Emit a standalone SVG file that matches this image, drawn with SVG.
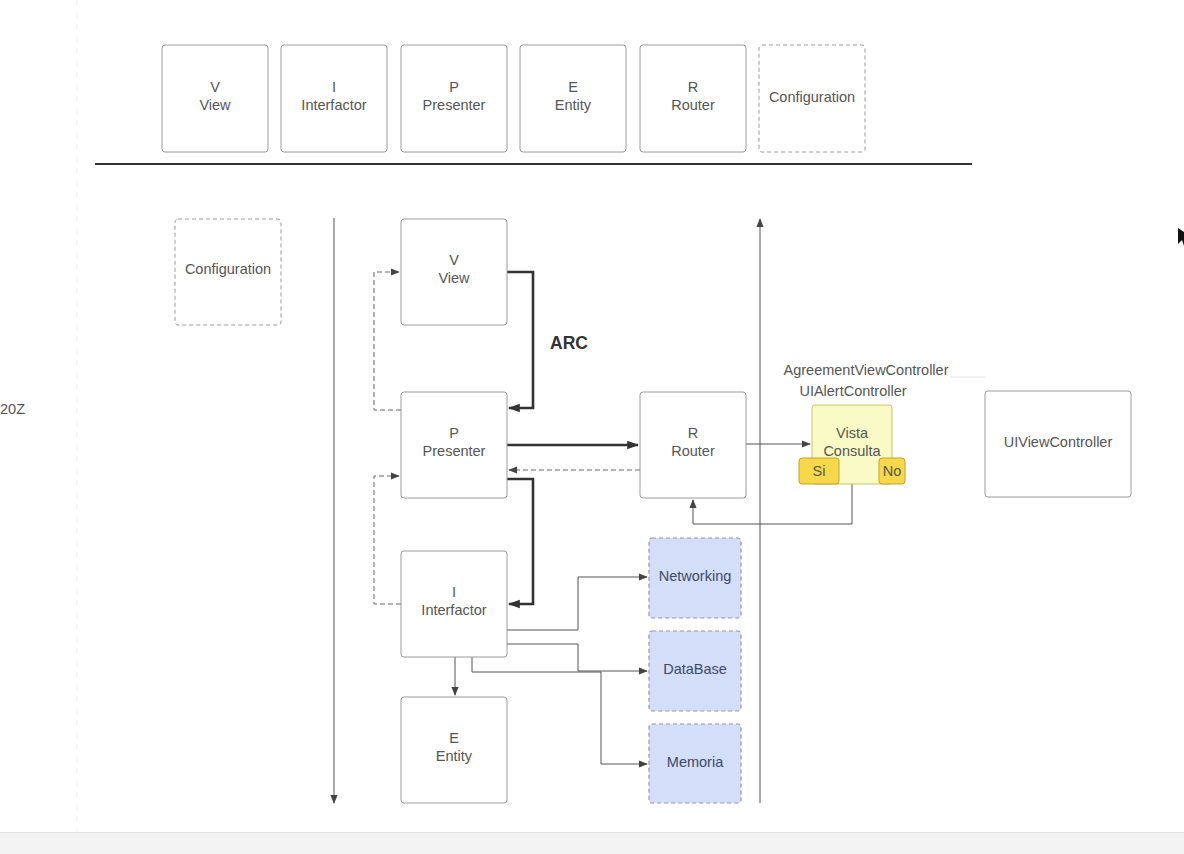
<svg xmlns="http://www.w3.org/2000/svg" width="1184" height="854" viewBox="0 0 1184 854">
<defs>
<style>
.box{fill:#fff;stroke:#9a9a9a;stroke-width:1}
.dbox{fill:#fff;stroke:#9a9a9a;stroke-width:1;stroke-dasharray:4 3}
.blue{fill:#d3def8;stroke:#9b8fb3;stroke-width:1.2;stroke-dasharray:4 3}
.t{font-family:"Liberation Sans",Arial,sans-serif;font-size:14.5px;fill:#555;text-anchor:middle}
.tb{font-family:"Liberation Sans",Arial,sans-serif;font-size:14.5px;fill:#3d4a6b;text-anchor:middle}
.thick{fill:none;stroke:#333;stroke-width:2.6}
.thin{fill:none;stroke:#555;stroke-width:1}
.dash{fill:none;stroke:#666;stroke-width:1;stroke-dasharray:5 3}
.grid{stroke:#f0f0f0;stroke-width:1}
</style>
<marker id="ah" viewBox="0 0 10 10" refX="9" refY="5" markerWidth="9" markerHeight="9" markerUnits="userSpaceOnUse" orient="auto"><path d="M0,1 L10,5 L0,9 z" fill="#444"/></marker>
<marker id="ahb" viewBox="0 0 10 10" refX="9" refY="5" markerWidth="12" markerHeight="12" markerUnits="userSpaceOnUse" orient="auto"><path d="M0,1.5 L10,5 L0,8.5 z" fill="#333"/></marker>
</defs>
<rect x="0" y="0" width="1184" height="854" fill="#fff"/>
<g id="background">
<line class="grid" x1="77" y1="0" x2="77" y2="832" stroke-dasharray="6 6" stroke="#e4e4e4"/>
<rect x="0" y="832" width="1184" height="22" fill="#f3f3f3"/>
<line x1="0" y1="832.5" x2="1184" y2="832.5" stroke="#e2e2e2"/>
<text x="0" y="414" font-family="Liberation Sans,Arial,sans-serif" font-size="14.5" fill="#555">20Z</text>
<line x1="95" y1="164" x2="972" y2="164" stroke="#333" stroke-width="2"/>
<line x1="950" y1="377" x2="985" y2="377" stroke="#e6e6e6"/>
</g>
<g id="legend">
<g id="legend-v"><rect class="box" x="162" y="45" width="106" height="107" rx="3"/><text class="t" x="215" y="92">V</text><text class="t" x="215" y="110">View</text></g>
<g id="legend-i"><rect class="box" x="281" y="45" width="106" height="107" rx="3"/><text class="t" x="334" y="92">I</text><text class="t" x="334" y="110">Interfactor</text></g>
<g id="legend-p"><rect class="box" x="401" y="45" width="106" height="107" rx="3"/><text class="t" x="454" y="92">P</text><text class="t" x="454" y="110">Presenter</text></g>
<g id="legend-e"><rect class="box" x="520" y="45" width="106" height="107" rx="3"/><text class="t" x="573" y="92">E</text><text class="t" x="573" y="110">Entity</text></g>
<g id="legend-r"><rect class="box" x="640" y="45" width="106" height="107" rx="3"/><text class="t" x="693" y="92">R</text><text class="t" x="693" y="110">Router</text></g>
<g id="legend-config"><rect class="dbox" x="759" y="45" width="106" height="107" rx="3"/><text class="t" x="812" y="102">Configuration</text></g>
</g>
<g id="connectors">
<line class="thin" x1="334" y1="218" x2="334" y2="803" marker-end="url(#ah)"/>
<line class="thin" x1="760" y1="803" x2="760" y2="219" marker-end="url(#ah)"/>
<path class="thick" d="M507,272 H533 V408 H509" marker-end="url(#ahb)"/>
<path class="thick" d="M507,445 H638" marker-end="url(#ahb)"/>
<path class="thick" d="M507,479 H533 V604 H509" marker-end="url(#ahb)"/>
<path class="dash" d="M640,470 H509" marker-end="url(#ah)"/>
<path class="dash" d="M401,410 H374 V272 H399" marker-end="url(#ah)"/>
<path class="dash" d="M401,604 H374 V476 H399" marker-end="url(#ah)"/>
<path class="thin" d="M746,444 H810" marker-end="url(#ah)"/>
<path class="thin" d="M852,484 V524 H693 V500" marker-end="url(#ah)"/>
<path class="thin" d="M507,630 H578 V577 H647" marker-end="url(#ah)"/>
<path class="thin" d="M507,644 H578 V671 H647" marker-end="url(#ah)"/>
<path class="thin" d="M472,657 V672 H601 V764 H647" marker-end="url(#ah)"/>
<path class="thin" d="M455,657 V695" marker-end="url(#ah)"/>
</g>
<g id="config"><rect class="dbox" x="175" y="219" width="106" height="106" rx="3"/><text class="t" x="228" y="274">Configuration</text></g>
<g id="view"><rect class="box" x="401" y="219" width="106" height="106" rx="3"/><text class="t" x="454" y="265">V</text><text class="t" x="454" y="283">View</text></g>
<g id="presenter"><rect class="box" x="401" y="392" width="106" height="106" rx="3"/><text class="t" x="454" y="438">P</text><text class="t" x="454" y="456">Presenter</text></g>
<g id="interfactor"><rect class="box" x="401" y="551" width="106" height="106" rx="3"/><text class="t" x="454" y="597">I</text><text class="t" x="454" y="615">Interfactor</text></g>
<g id="entity"><rect class="box" x="401" y="697" width="106" height="106" rx="3"/><text class="t" x="454" y="743">E</text><text class="t" x="454" y="761">Entity</text></g>
<g id="router"><rect class="box" x="640" y="392" width="106" height="106" rx="3"/><text class="t" x="693" y="438">R</text><text class="t" x="693" y="456">Router</text></g>
<g id="arc-label"><text x="550" y="349" font-family="Liberation Sans,Arial,sans-serif" font-size="17.5" font-weight="bold" fill="#333">ARC</text></g>
<g id="networking"><rect class="blue" x="649" y="538" width="92" height="80" rx="3"/><text class="tb" x="695" y="581">Networking</text></g>
<g id="database"><rect class="blue" x="649" y="631" width="92" height="80" rx="3"/><text class="tb" x="695" y="674">DataBase</text></g>
<g id="memoria"><rect class="blue" x="649" y="724" width="92" height="79" rx="3"/><text class="tb" x="695" y="767">Memoria</text></g>
<g id="vista">
<text class="t" x="866" y="375">AgreementViewController</text>
<text class="t" x="853" y="396">UIAlertController</text>
<rect x="812" y="405" width="80" height="79" rx="3" fill="#fafac6" stroke="#c9c36a" stroke-width="1"/>
<text class="t" x="852" y="438">Vista</text>
<text class="t" x="852" y="456">Consulta</text>
<g id="si"><rect x="799" y="458" width="40" height="26" rx="3" fill="#f6d84a" stroke="#c6a227" stroke-width="1"/><text class="t" x="819" y="476" fill="#444">Si</text></g>
<g id="no"><rect x="879" y="458" width="26" height="26" rx="3" fill="#f6d84a" stroke="#c6a227" stroke-width="1"/><text class="t" x="892" y="476" fill="#444">No</text></g>
</g>
<g id="uiviewcontroller"><rect class="box" x="985" y="391" width="146" height="106" rx="3"/><text class="t" x="1058" y="447">UIViewController</text></g>
<path d="M1178,228 L1178,244 L1182,240 L1184,246 L1184,232 Z" fill="#111"/>
</svg>
